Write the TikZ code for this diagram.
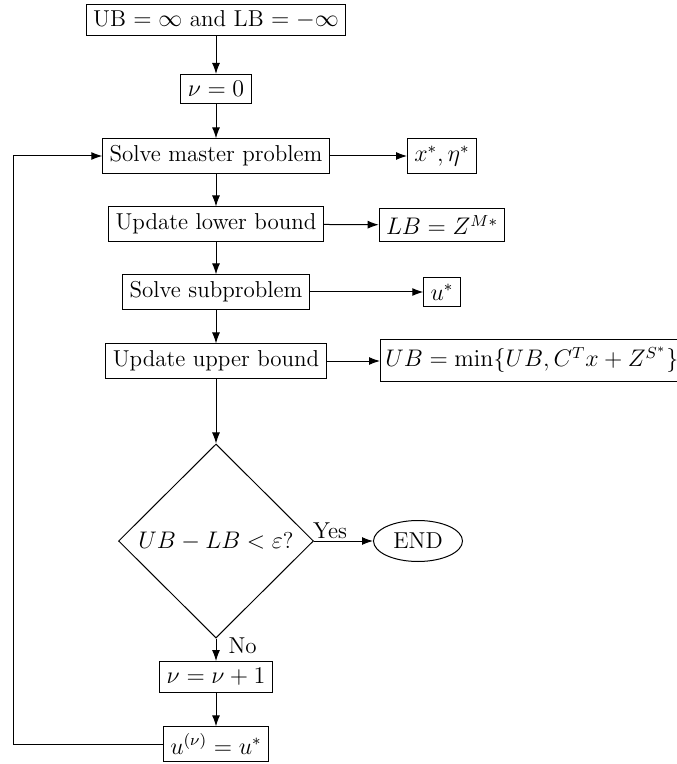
\documentclass[tikz,border=0pt]{standalone}
\usetikzlibrary{arrows.meta,shapes.geometric}
\begin{document}
\begin{tikzpicture}[x=0.5pt,y=-0.5pt,
  font=\fontsize{11.5}{13.8}\selectfont,
  line width=0.5pt,
  box/.style={draw, rectangle, inner sep=3.4pt},
  decision/.style={draw, diamond, aspect=1, inner sep=0pt,
    minimum width=97.5pt, minimum height=97pt},
  terminal/.style={draw, ellipse, inner sep=0pt,
    minimum width=44.5pt, minimum height=20.5pt},
  arr/.style={-{Latex[length=5.5pt,width=4pt]}}]
\useasboundingbox (0,0) rectangle (676,764);

% main column
\node[box] (init)   at (216,20)  {UB $=\infty$ and LB $=-\infty$};
\node[box] (nu0)    at (216,89)  {$\nu=0$};
\node[box] (master) at (216,156) {Solve master problem};
\node[box] (lower)  at (216,224) {Update lower bound};
\node[box] (sub)    at (216,292) {Solve subproblem};
\node[box] (upper)  at (216,361) {Update upper bound};
\node[decision] (test) at (216,541) {$UB-LB<\varepsilon$?};
\node[box] (nuinc)  at (216,677) {$\nu=\nu+1$};
\node[box] (uset)   at (216,744) {$u^{(\nu)}=u^{*}$};

% outputs of each step
\node[box] (xeta)  at (442,156) {$x^{*},\eta^{*}$};
\node[box] (lbval) at (442,225) {$LB=Z^{M*}$};
\node[box] (ustar) at (442,292) {$u^{*}$};
\node[box, anchor=west, inner xsep=2.4pt, minimum height=21pt] (ubval) at (380,360)
  {$UB=\min\{UB,C^{T}x+Z^{S^{*}}\}$};
\node[terminal] (end) at (418,541) {END};

% flow
\draw[arr] (init) -- (nu0);
\draw[arr] (nu0) -- (master);
\draw[arr] (master) -- (lower);
\draw[arr] (lower) -- (sub);
\draw[arr] (sub) -- (upper);
\draw[arr] (upper) -- (test);
\draw[arr] (test) -- node[right=6pt, pos=0.3, inner sep=0pt] {No} (nuinc);
\draw[arr] (nuinc) -- (uset);
\draw[arr] (test) -- node[above, pos=0.27, inner sep=1pt] {Yes} (end);

\draw[arr] (master) -- (xeta);
\draw[arr] (lower) -- (lbval);
\draw[arr] (sub) -- (ustar);
\draw[arr] (upper.east) -- (upper.east -| ubval.west);

% loop back to the master problem
\coordinate (loopc) at (13,744);
\draw[arr] (uset.west) -- (loopc) |- (master.west);
\end{tikzpicture}
\end{document}
